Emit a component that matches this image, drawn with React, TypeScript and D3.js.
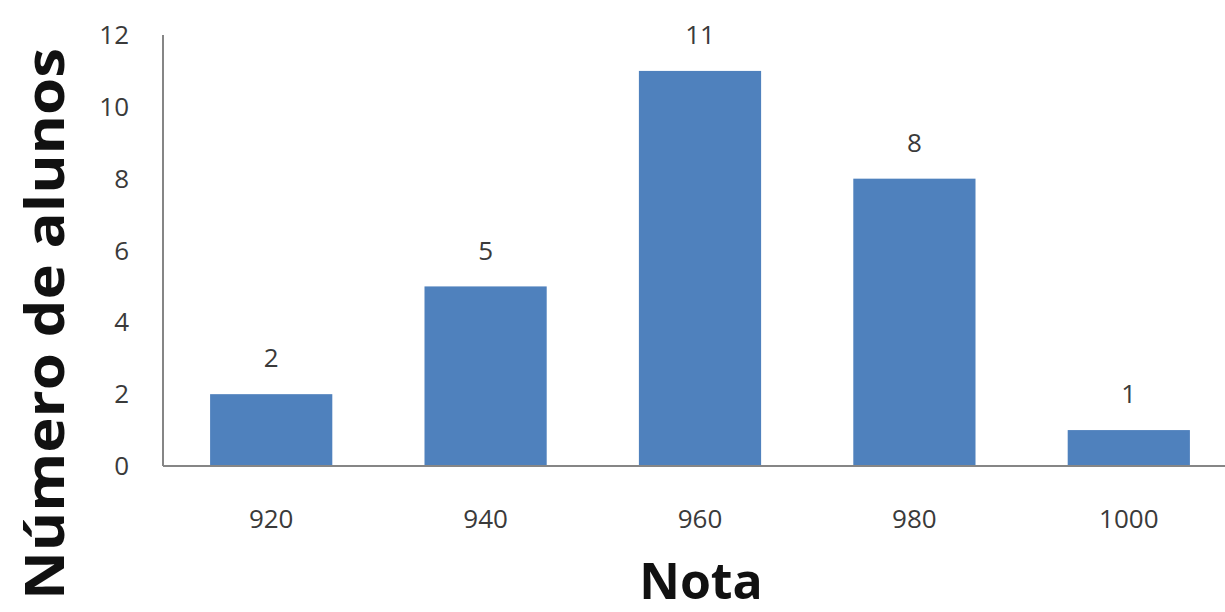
import React from "react";
import * as d3 from "d3";

const categories = ["920", "940", "960", "980", "1000"];
const values = [2, 5, 11, 8, 1];
const yTicks = [0, 2, 4, 6, 8, 10, 12];

const W = 1225;
const H = 612;
const margin = { left: 164, right: -11, top: 35, bottom: 146 };

export default function App() {
  const x = d3
    .scaleBand<string>()
    .domain(categories)
    .range([margin.left, W - margin.right])
    .paddingInner(0.43)
    .paddingOuter(0.215);
  const y = d3.scaleLinear().domain([0, 12]).range([H - margin.bottom, margin.top]);
  const font = "'Open Sans', 'DejaVu Sans', sans-serif";
  const y0 = y(0);
  return (
    <svg
      width={W}
      height={H}
      style={{ position: "absolute", left: 0, top: 0, background: "#fff", display: "block" }}
    >
      {categories.map((c, i) => (
        <rect
          key={c}
          x={x(c)}
          y={y(values[i])}
          width={x.bandwidth()}
          height={y0 - y(values[i])}
          fill="#4f81bd"
        />
      ))}
      <line x1={margin.left - 1} x2={margin.left - 1} y1={y(12)} y2={y0} stroke="#868686" strokeWidth={2} />
      <line x1={margin.left - 1} x2={W} y1={y0} y2={y0} stroke="#868686" strokeWidth={2} />
      {yTicks.map((t) => (
        <text
          key={t}
          x={129}
          y={y(t)}
          dy="0.35em"
          textAnchor="end"
          fontFamily={font}
          fontSize={26}
          fill="#3a3a3a"
        >
          {t}
        </text>
      ))}
      {categories.map((c) => (
        <text
          key={c}
          x={(x(c) as number) + x.bandwidth() / 2}
          y={519}
          dy="0.35em"
          textAnchor="middle"
          fontFamily={font}
          fontSize={26}
          fill="#3a3a3a"
        >
          {c}
        </text>
      ))}
      {categories.map((c, i) => (
        <text
          key={"l" + c}
          x={(x(c) as number) + x.bandwidth() / 2}
          y={y(values[i]) - 36}
          dy="0.35em"
          textAnchor="middle"
          fontFamily={font}
          fontSize={26}
          fill="#3a3a3a"
        >
          {values[i]}
        </text>
      ))}
      <text
        transform={`translate(64, 324) rotate(-90)`}
        textAnchor="middle"
        fontFamily={font}
        fontWeight="bold"
        fontSize={54}
        fill="#111"
        textLength={552}
        lengthAdjust="spacingAndGlyphs"
      >
        Número de alunos
      </text>
      <text
        x={701}
        y={599}
        textAnchor="middle"
        fontFamily={font}
        fontWeight="bold"
        fontSize={50}
        fill="#111"
      >
        Nota
      </text>
    </svg>
  );
}
